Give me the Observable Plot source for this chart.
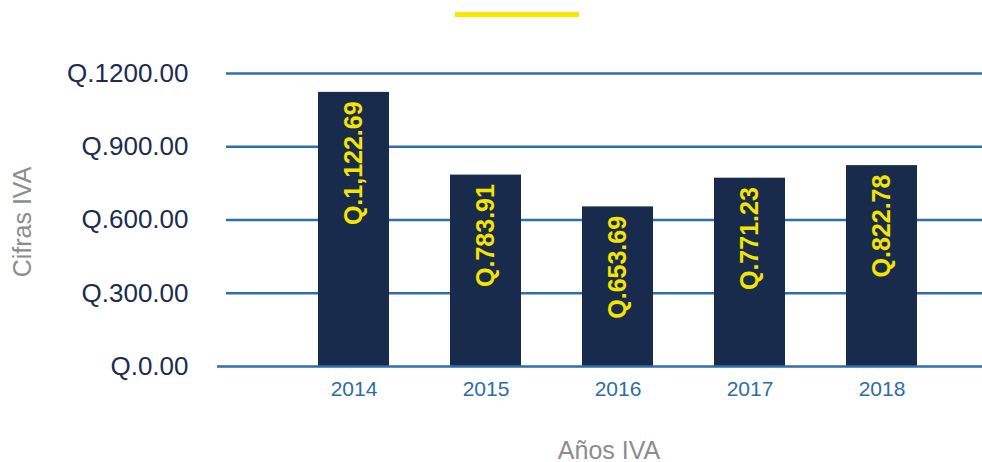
<!DOCTYPE html>
<html>
<head>
<meta charset="utf-8">
<script src="https://cdn.jsdelivr.net/npm/d3@7"></script>
<script src="https://cdn.jsdelivr.net/npm/@observablehq/plot@0.6"></script>
<style>
  html, body { margin: 0; padding: 0; background: #fff; }
  body { position: relative; width: 982px; height: 462px; overflow: hidden; font-family: "Liberation Sans", Arial, sans-serif; }
  #titlebar { position: absolute; left: 455px; top: 12px; width: 124px; height: 5px; background: #f7e600; z-index: 2; }
</style>
</head>
<body>
<div id="titlebar"></div>
<div id="chart"></div>
<script>
const years = ["2014", "2015", "2016", "2017", "2018"];
const values = [1122.69, 783.91, 653.69, 771.23, 822.78];
const yTicks = [0, 300, 600, 900, 1200];
const xTitle = "Años IVA";
const yTitle = "Cifras IVA";

const data = years.map((y, i) => ({year: y, value: values[i]}));
const fmtTick = d => "Q." + d.toFixed(2);
const fmtVal = d => "Q." + d3.format(",.2f")(d);

const font = "'Liberation Sans', Arial, sans-serif";

const chart = Plot.plot({
  width: 982,
  height: 462,
  marginLeft: 217,
  marginRight: 0,
  marginTop: 73,
  marginBottom: 96,
  style: {fontFamily: font, background: "transparent", overflow: "visible"},
  x: {
    type: "band",
    domain: years,
    range: [288, 948],
    paddingInner: 0.46,
    paddingOuter: 0.23
  },
  y: {domain: [0, 1200], range: [366, 73]},
  marks: [
    Plot.ruleY(yTicks.filter(d => d > 0), {stroke: "#2f6ea6", strokeWidth: 2.6, insetLeft: 9}),
    Plot.barY(data, {x: "year", y: "value", fill: "#182b4c"}),
    Plot.ruleY([0], {stroke: "#2f6ea6", strokeWidth: 2.6}),
    Plot.text(data, {
      x: "year", y: "value", text: d => fmtVal(d.value),
      rotate: -90, textAnchor: "end", lineAnchor: "middle",
      dy: 9, fill: "#f5e400", fontSize: 25, fontWeight: "bold"
    }),
    Plot.axisY({
      ticks: yTicks, tickFormat: fmtTick, tickSize: 0, tickPadding: 29,
      fontSize: 26, fill: "#1b2c4f", label: null
    }),
    Plot.axisX({
      tickSize: 0, tickPadding: 15, fontSize: 21, fill: "#2e6da4", label: null
    }),
    Plot.text([xTitle], {
      frameAnchor: "bottom", textAnchor: "middle", lineAnchor: "middle",
      dx: 9, dy: 84, fill: "#8c8c8c", fontSize: 25, text: d => d
    }),
    Plot.text([yTitle], {
      frameAnchor: "left", textAnchor: "middle", dx: -195, dy: 2, rotate: -90,
      fill: "#8c8c8c", fontSize: 25, text: d => d
    })
  ]
});
document.getElementById("chart").appendChild(chart);
</script>
</body>
</html>
